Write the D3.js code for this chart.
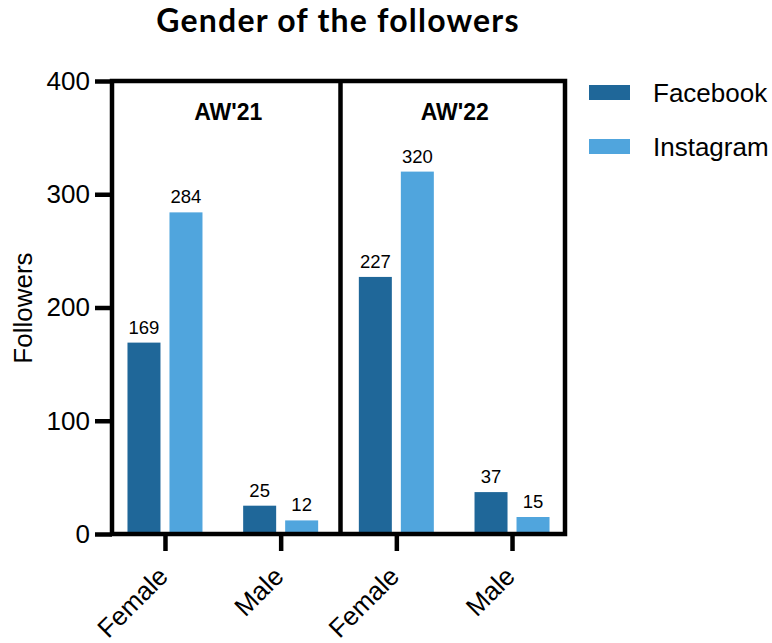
<!DOCTYPE html>
<html><head><meta charset="utf-8">
<script src="https://cdn.jsdelivr.net/npm/d3@7"></script>
<style>body{margin:0;background:#fff;} svg{display:block;}</style>
</head><body>
<svg id="chart" width="772" height="643"></svg>
<script>
const panels = ["AW'21", "AW'22"];
const genders = ["Female", "Male"];
const categories = ["AW'21|Female", "AW'21|Male", "AW'22|Female", "AW'22|Male"];
const facebook = [169, 25, 227, 37];
const instagram = [284, 12, 320, 15];
const seriesNames = ["Facebook", "Instagram"];
const seriesColors = ["#1f6799", "#50a5dd"];
const yTicks = [0, 100, 200, 300, 400];

const svg = d3.select("#chart");
const pLeft = 112, pRight = 565, pTop = 81, pBottom = 534;
const x = d3.scalePoint().domain(categories).range([pLeft, pRight]).padding(0.458);
const y = d3.scaleLinear().domain([0, 400]).range([pBottom, pTop]);
const barW = 33, gap = 9;
const font = "Liberation Sans, Arial, sans-serif";

// title
svg.append("text").attr("x", 338).attr("y", 32).attr("text-anchor", "middle")
  .attr("font-family", "Lato, sans-serif").attr("font-weight", 700).attr("font-size", 32)
  .attr("letter-spacing", 1.2)
  .text("Gender of the followers");

// bars
const series = [facebook, instagram];
series.forEach((vals, si) => {
  svg.append("g").selectAll("rect").data(categories).join("rect")
    .attr("x", (c) => x(c) + (si === 0 ? -(barW + gap / 2) : gap / 2))
    .attr("y", (c, i) => y(vals[i]))
    .attr("width", barW)
    .attr("height", (c, i) => pBottom - y(vals[i]))
    .attr("fill", seriesColors[si]);
  svg.append("g").selectAll("text").data(categories).join("text")
    .attr("x", (c) => x(c) + (si === 0 ? -(barW / 2 + gap / 2) : gap / 2 + barW / 2))
    .attr("y", (c, i) => y(vals[i]) - 9)
    .attr("text-anchor", "middle")
    .attr("font-family", font).attr("font-size", 18.5)
    .text((c, i) => vals[i]);
});

// frame
const stroke = 4.5;
const mid = (x(categories[1]) + x(categories[2])) / 2 + 2;
svg.append("rect").attr("x", pLeft).attr("y", pTop).attr("width", pRight - pLeft).attr("height", pBottom - pTop)
  .attr("fill", "none").attr("stroke", "#000").attr("stroke-width", stroke);
svg.append("line").attr("x1", mid).attr("x2", mid).attr("y1", pTop).attr("y2", pBottom)
  .attr("stroke", "#000").attr("stroke-width", stroke);

// panel labels
[[pLeft, mid], [mid, pRight]].forEach((p, i) => {
  svg.append("text").attr("x", (p[0] + p[1]) / 2 + 2).attr("y", 120).attr("text-anchor", "middle")
    .attr("font-family", font).attr("font-weight", 700).attr("font-size", 23)
    .text(panels[i]);
});

// y axis
const yAxis = d3.axisLeft(y).tickValues(yTicks).tickSize(17).tickPadding(5);
const gy = svg.append("g").attr("transform", `translate(${pLeft},0)`).call(yAxis);
gy.select(".domain").remove();
gy.selectAll(".tick line").attr("stroke", "#000").attr("stroke-width", stroke);
gy.selectAll(".tick text").attr("font-family", font).attr("font-size", 26).attr("fill", "#000");

// x axis
const xAxis = d3.axisBottom(x).tickSize(17).tickFormat((c) => c.split("|")[1]);
const gx = svg.append("g").attr("transform", `translate(0,${pBottom})`).call(xAxis);
gx.select(".domain").remove();
gx.selectAll(".tick line").attr("stroke", "#000").attr("stroke-width", stroke);
gx.selectAll(".tick text").attr("font-family", font).attr("font-size", 26).attr("fill", "#000")
  .attr("text-anchor", "end").attr("dy", 0).attr("y", 0)
  .attr("transform", "translate(4,44) rotate(-45)");

// y title
svg.append("text").attr("transform", "translate(32,308) rotate(-90)").attr("text-anchor", "middle")
  .attr("font-family", font).attr("font-size", 26).text("Followers");

// legend
seriesNames.forEach((n, i) => {
  svg.append("rect").attr("x", 589).attr("y", 85 + i * 54).attr("width", 41).attr("height", 15).attr("fill", seriesColors[i]);
  svg.append("text").attr("x", 653).attr("y", 101.5 + i * 54).attr("font-family", font).attr("font-size", 26).text(n);
});
</script>
</body></html>
